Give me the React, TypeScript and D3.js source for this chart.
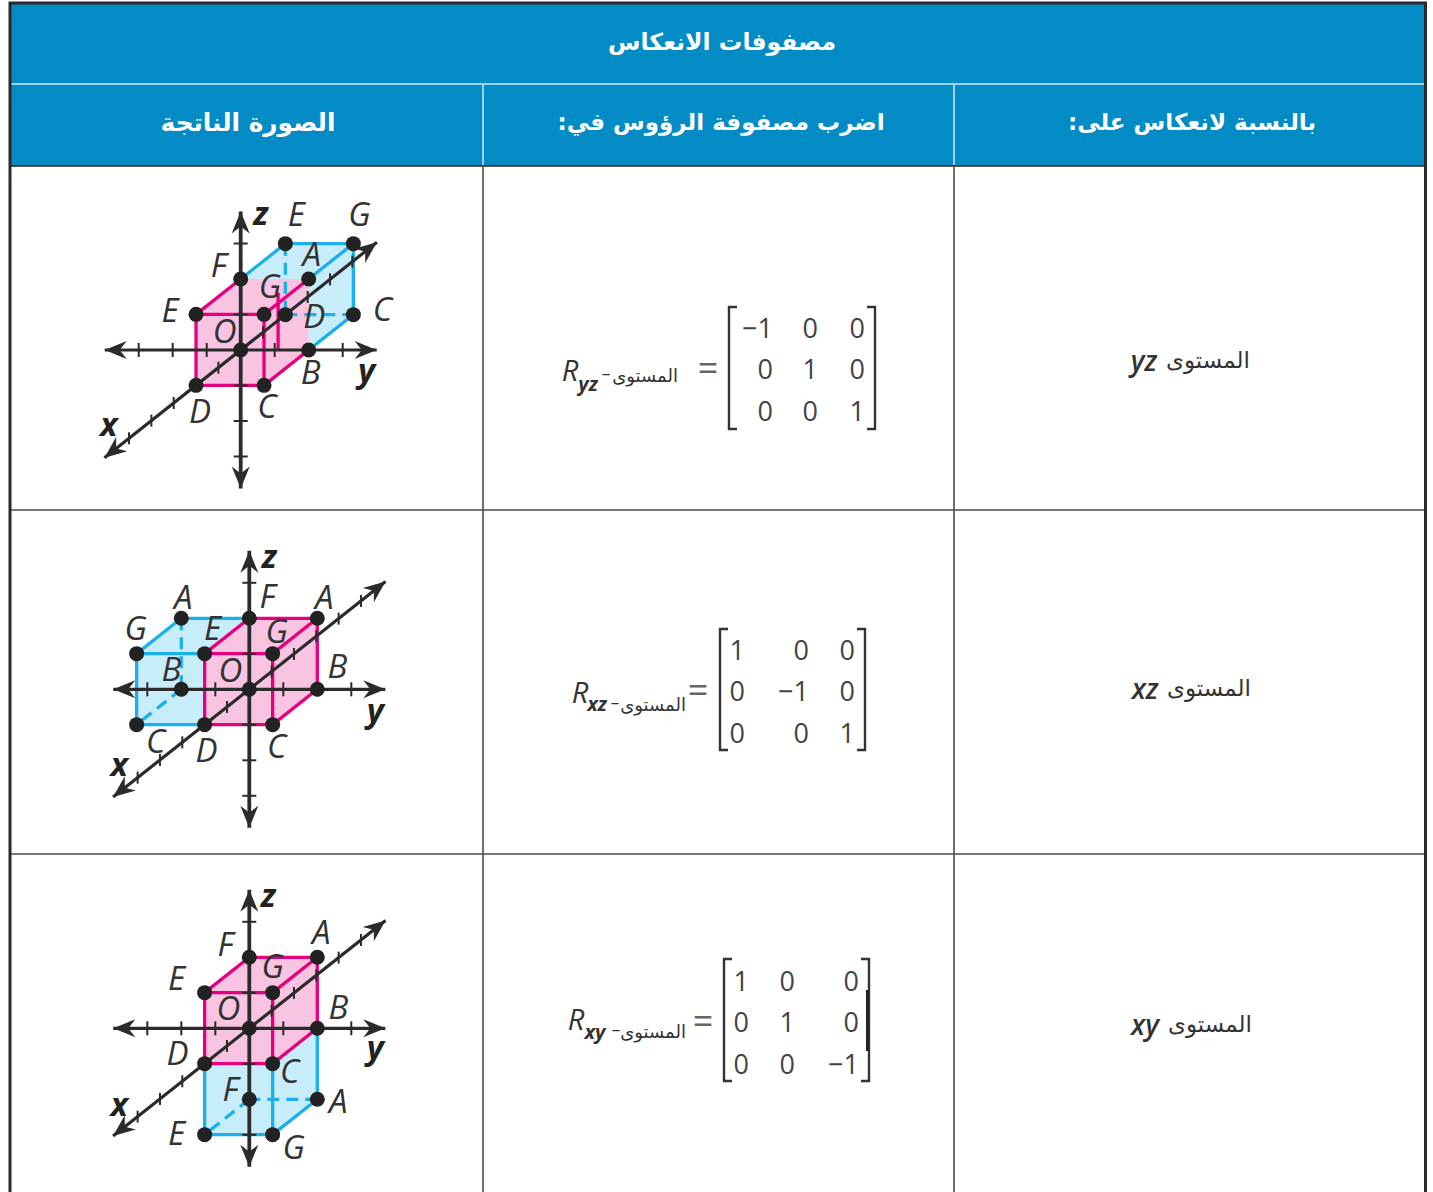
import React, { useEffect, useRef } from "react";
import * as d3 from "d3";

// table text
const title = "مصفوفات الانعكاس";
const columnHeads = ["الصورة الناتجة", "اضرب مصفوفة الرؤوس في:", "بالنسبة لانعكاس على:"];
const planeWord = "المستوى";
const planeNames = ["yz", "xz", "xy"];

// reflection matrices
const matrixYz = [["−1", "0", "0"], ["0", "1", "0"], ["0", "0", "1"]];
const matrixXz = [["1", "0", "0"], ["0", "−1", "0"], ["0", "0", "1"]];
const matrixXy = [["1", "0", "0"], ["0", "1", "0"], ["0", "0", "−1"]];

// axis ticks, in units
const yTicks = [-3, -2, -1, 1, 2, 3];
const zTicks = [-3, -2, -1, 1, 2, 3];
const xTicks = [-5, -4, -3, -2, -1, 1, 2, 3, 4, 5];

// cube vertices as [x, y, z]; the key prefix b marks the reflected (blue) image
type Vec = [number, number, number];
const pinkVerts: Record<string, Vec> = {
  O: [0, 0, 0], A: [0, 2, 2], B: [0, 2, 0], C: [2, 2, 0], D: [2, 0, 0], E: [2, 0, 2], F: [0, 0, 2], G: [2, 2, 2],
};
const blueYz: Record<string, Vec> = { bE: [-2, 0, 2], bG: [-2, 2, 2], bC: [-2, 2, 0], bD: [-2, 0, 0] };
const blueXz: Record<string, Vec> = { bA: [0, -2, 2], bB: [0, -2, 0], bC: [2, -2, 0], bG: [2, -2, 2] };
const blueXy: Record<string, Vec> = { bA: [0, 2, -2], bE: [2, 0, -2], bF: [0, 0, -2], bG: [2, 2, -2] };

// the loose pink stroke inside the first cube
const yzLoosePink: Vec[] = [[1.37, 2, 2.3], [1.37, 2, 0.68]];

const pinkFace = ["F", "A", "B", "C", "D", "E"];
const pinkEdges = ["F-A", "F-E", "A-G", "E-G", "E-D", "G-C", "D-C", "C-B", "A-B"];

const panels = [
  {
    blue: blueYz,
    origin: [240.7, 350],
    blueFace: ["F", "bE", "bG", "bC", "B", "A"],
    blueEdges: ["F-bE", "bE-bG", "bG-bC", "bC-B", "bG-A"],
    blueDashed: ["bE-bD", "bD-bC"],
    pinkEdges: ["F-E", "A-G", "E-G", "E-D", "G-C", "D-C", "C-B"],
    loose: yzLoosePink,
    labels: {
      E: [-26, -3], F: [-22, -13], G: [6, -27], D: [4, 27], C: [3, 22], B: [2, 23], A: [3, -24], O: [-16, -18],
      bE: [11, -28], bG: [6, -28], bC: [29, -4], bD: [29, 3],
    },
    axisLabels: { z: [20, -134], y: [126, 23], x: [-132, 77] },
  },
  {
    blue: blueXz,
    origin: [249.3, 689.3],
    blueFace: ["bA", "F", "O", "D", "bC", "bG"],
    blueEdges: ["bA-F", "bA-bG", "bG-E", "bG-bC", "bC-D"],
    blueDashed: ["bA-bB", "bB-bC"],
    pinkEdges,
    labels: {
      bA: [2, -20], bG: [-1, -24], E: [8, -24], bB: [-10, -19], bC: [19, 18], D: [2, 27], O: [-19, -18],
      F: [18, -21], A: [7, -20], G: [4, -21], B: [20, -22], C: [4, 23],
    },
    axisLabels: { z: [20, -130], y: [126, 24], x: [-130, 78] },
  },
  {
    blue: blueXy,
    origin: [249.3, 1028.3],
    blueFace: ["D", "C", "B", "bA", "bG", "bE"],
    blueEdges: ["D-bE", "bE-bG", "bG-C", "bG-bA", "bA-B"],
    blueDashed: ["bA-bF", "bF-bE"],
    pinkEdges,
    labels: {
      F: [-24, -12], A: [4, -24], E: [-28, -13], G: [0, -25], O: [-21, -19], B: [21, -20], D: [-27, -9], C: [17, 9],
      bF: [-19, -9], bA: [21, 3], bE: [-28, 0], bG: [21, 14],
    },
    axisLabels: { z: [19, -130], y: [126, 22], x: [-130, 79] },
  },
];

// matrix layout per row of the table
const matrixLayouts = [
  { values: matrixYz, colRight: [773, 818, 865], rowY: [327, 368, 410], left: 729, right: 875, top: 307, bottom: 429 },
  { values: matrixXz, colRight: [745, 809, 855], rowY: [649, 690, 732], left: 720, right: 865, top: 629, bottom: 750 },
  { values: matrixXy, colRight: [749, 795, 859], rowY: [980, 1021, 1063], left: 724, right: 869, top: 959, bottom: 1081 },
];

const equations = [
  { name: "R", sub: "yz", rx: 570, ry: 369, subX: 588, subY: 383, wordRight: 678, wordY: 375, dashX: 606, eqX: 708, eqY: 367 },
  { name: "R", sub: "xz", rx: 580, ry: 691, subX: 597, subY: 703, wordRight: 686, wordY: 704, dashX: 615, eqX: 698, eqY: 689 },
  { name: "R", sub: "xy", rx: 576, ry: 1018, subX: 595, subY: 1031, wordRight: 686, wordY: 1031, dashX: 616, eqX: 703, eqY: 1020 },
];

const planeRows = [
  { nameX: 1144, wordRight: 1250, y: 360 },
  { nameX: 1145, wordRight: 1251, y: 688 },
  { nameX: 1145, wordRight: 1252, y: 1024 },
];

const BLUE_HEAD = "#038bc5";
const PINK = "#e6007e";
const PINK_FILL = "#f8c4e1";
const BLUE = "#1bb0ea";
const BLUE_FILL = "#c7ecfa";
const INK = "#2b2b2b";
const LINE = "#4a4a4a";
const LATIN = '"Open Sans", sans-serif';
const ARABIC = '"DejaVu Sans", sans-serif';

// projection scales (units to pixels relative to the panel origin)
const yPx = d3.scaleLinear().domain([-4, 4]).range([-136, 136]);
const zPx = d3.scaleLinear().domain([-4, 4]).range([142, -142]);
const xDx = d3.scaleLinear().domain([-6, 6]).range([134, -134]);
const xDy = d3.scaleLinear().domain([-6, 6]).range([-106, 106]);

const App = () => {
  const svgRef = useRef<SVGSVGElement>(null);

  useEffect(() => {
    const svg = d3.select(svgRef.current);
    svg.selectAll("*").remove();

    // HEADER
    svg.append("rect").attr("x", 10).attr("y", 3).attr("width", 1415).attr("height", 163).attr("fill", BLUE_HEAD);
    svg.append("line").attr("x1", 11).attr("x2", 1424).attr("y1", 84).attr("y2", 84).attr("stroke", "#cfe9f5").attr("stroke-width", 1.5);

    const hline = (y: number) =>
      svg.append("line").attr("x1", 10).attr("x2", 1425).attr("y1", y).attr("y2", y).attr("stroke", LINE).attr("stroke-width", 1.6);
    hline(510);
    hline(854);
    svg.append("line").attr("x1", 10).attr("x2", 1425).attr("y1", 166).attr("y2", 166).attr("stroke", "#222").attr("stroke-width", 1.6);

    [483, 954].forEach((x) => {
      svg.append("line").attr("x1", x).attr("x2", x).attr("y1", 85).attr("y2", 165).attr("stroke", "#cfe9f5").attr("stroke-width", 1.5);
      svg.append("line").attr("x1", x).attr("x2", x).attr("y1", 167).attr("y2", 1192).attr("stroke", LINE).attr("stroke-width", 1.6);
    });

    // outer frame, open at the bottom
    svg.append("path").attr("d", "M10,1192V3H1425.5V1192").attr("fill", "none").attr("stroke", "#2a2a2a").attr("stroke-width", 3);

    const headText = (s: string, x: number, y: number, size: number) =>
      svg.append("text").attr("x", x).attr("y", y).attr("text-anchor", "middle").attr("dominant-baseline", "central")
        .attr("direction", "rtl").attr("fill", "white").attr("font-family", ARABIC).attr("font-weight", "bold")
        .attr("font-size", size).text(s);
    headText(title, 722, 42, 23.5);
    [248, 721, 1192].forEach((x, i) => headText(columnHeads[i], x, 122, i === 0 ? 24.8 : 23));

    // CUBES
    panels.forEach((p) => {
      const g = svg.append("g").attr("transform", `translate(${p.origin[0]},${p.origin[1]})`);
      const verts: Record<string, Vec> = { ...pinkVerts, ...p.blue };
      const proj = (v: Vec): [number, number] => [yPx(v[1]) + xDx(v[0]), zPx(v[2]) + xDy(v[0])];
      const at = (k: string) => proj(verts[k]);

      const face = (keys: string[], fill: string) =>
        g.append("polygon").attr("points", keys.map((k) => at(k).join(",")).join(" ")).attr("fill", fill);
      const segment = (a: [number, number], b: [number, number], color: string, dash?: string) =>
        g.append("line").attr("x1", a[0]).attr("y1", a[1]).attr("x2", b[0]).attr("y2", b[1])
          .attr("stroke", color).attr("stroke-width", 3.3).attr("stroke-dasharray", dash ?? null);
      const edges = (list: string[], color: string, dash?: string) =>
        list.forEach((e) => {
          const [a, b] = e.split("-").map(at);
          segment(a, b, color, dash);
        });

      face(p.blueFace, BLUE_FILL);
      face(pinkFace, PINK_FILL);
      edges(p.blueEdges, BLUE);
      edges(p.blueDashed, BLUE, "12 7");
      edges(p.pinkEdges, PINK);
      if (p.loose) segment(proj(p.loose[0]), proj(p.loose[1]), PINK);

      // AXES
      const axis = (from: Vec, to: Vec, w: number) => {
        const a = proj(from);
        const b = proj(to);
        g.append("line").attr("x1", a[0]).attr("y1", a[1]).attr("x2", b[0]).attr("y2", b[1]).attr("stroke", INK).attr("stroke-width", w);
        [[a, b], [b, a]].forEach(([s, e]) => {
          const ang = Math.atan2(e[1] - s[1], e[0] - s[0]);
          const pt = (back: number, side: number) => [
            e[0] - back * Math.cos(ang) - side * Math.sin(ang),
            e[1] - back * Math.sin(ang) + side * Math.cos(ang),
          ].join(",");
          g.append("polygon").attr("points", [pt(0, 0), pt(22, 9), pt(15, 0), pt(22, -9)].join(" ")).attr("fill", INK);
        });
      };
      axis([0, -4, 0], [0, 4, 0], 3.2);
      axis([0, 0, -3.9], [0, 0, 3.9], 3.8);
      axis([6.1, 0, 0], [-6.1, 0, 0], 3.2);

      const tick = (c: [number, number], dx: number, dy: number) =>
        g.append("line").attr("x1", c[0] - dx).attr("y1", c[1] - dy).attr("x2", c[0] + dx).attr("y2", c[1] + dy)
          .attr("stroke", INK).attr("stroke-width", 2);
      yTicks.forEach((t) => tick(proj([0, t, 0]), 0, 7));
      zTicks.forEach((t) => tick(proj([0, 0, t]), 7, 0));
      xTicks.forEach((t) => tick(proj([t, 0, 0]), 0, 6));

      // POINTS
      Object.keys(verts).forEach((k) => {
        const c = at(k);
        g.append("circle").attr("cx", c[0]).attr("cy", c[1]).attr("r", 7.5).attr("fill", "#222");
      });

      // LABELS
      Object.entries(p.labels).forEach(([k, off]) => {
        const c = at(k);
        g.append("text").attr("x", c[0] + off[0]).attr("y", c[1] + off[1] - 2).attr("text-anchor", "middle")
          .attr("dominant-baseline", "central").attr("font-family", LATIN).attr("font-style", "italic")
          .attr("font-size", 33).attr("fill", "#333").text(k.replace("b", ""));
      });
      Object.entries(p.axisLabels).forEach(([k, off]) => {
        g.append("text").attr("x", off[0]).attr("y", off[1] - 4).attr("text-anchor", "middle")
          .attr("dominant-baseline", "central").attr("font-family", LATIN).attr("font-style", "italic").attr("font-weight", "bold")
          .attr("font-size", 33).attr("fill", "#222").text(k);
      });
    });

    // MATRICES
    matrixLayouts.forEach((m) => {
      m.values.forEach((row, r) =>
        row.forEach((v, c) => {
          svg.append("text").attr("x", m.colRight[c]).attr("y", m.rowY[r]).attr("text-anchor", "end")
            .attr("dominant-baseline", "central").attr("font-family", LATIN).attr("font-size", 27).attr("fill", "#444").text(v);
        }),
      );
      svg.append("path")
        .attr("d", `M${m.left + 8},${m.top}H${m.left}V${m.bottom}H${m.left + 8}M${m.right - 8},${m.top}H${m.right}V${m.bottom}H${m.right - 8}`)
        .attr("fill", "none").attr("stroke", "#333").attr("stroke-width", 2.4);
    });
    // the heavier stretch on the last matrix's right bracket
    const lastMatrix = matrixLayouts[2];
    svg.append("line").attr("x1", lastMatrix.right - 1.5).attr("x2", lastMatrix.right - 1.5)
      .attr("y1", lastMatrix.rowY[0] + 10).attr("y2", lastMatrix.rowY[2] - 12).attr("stroke", "#222").attr("stroke-width", 3);

    // EQUATIONS
    equations.forEach((e) => {
      const latin = (s: string, x: number, y: number, size: number, weight = "normal") =>
        svg.append("text").attr("x", x).attr("y", y).attr("text-anchor", "middle").attr("dominant-baseline", "central")
          .attr("font-family", LATIN).attr("font-style", "italic").attr("font-weight", weight).attr("font-size", size).attr("fill", "#333").text(s);
      latin(e.name, e.rx, e.ry, 29);
      latin(e.sub, e.subX, e.subY, 20, "bold");
      latin("–", e.dashX, e.wordY - 2, 18);
      svg.append("text").attr("x", e.wordRight).attr("y", e.wordY).attr("text-anchor", "end").attr("dominant-baseline", "central")
        .attr("font-family", ARABIC).attr("font-size", 18).attr("fill", "#333").text(planeWord);
      svg.append("text").attr("x", e.eqX).attr("y", e.eqY).attr("text-anchor", "middle").attr("dominant-baseline", "central")
        .attr("font-family", LATIN).attr("font-size", 36).attr("fill", "#666").text("=");
    });

    // FIRST COLUMN
    planeRows.forEach((r, i) => {
      svg.append("text").attr("x", r.nameX).attr("y", r.y).attr("text-anchor", "middle").attr("dominant-baseline", "central")
        .attr("font-family", LATIN).attr("font-style", "italic").attr("font-weight", 600).attr("font-size", 28).attr("fill", "#333").text(planeNames[i]);
      svg.append("text").attr("x", r.wordRight).attr("y", r.y).attr("text-anchor", "end").attr("dominant-baseline", "central")
        .attr("font-family", ARABIC).attr("font-size", 23).attr("fill", "#333").text(planeWord);
    });
  }, []);

  return <svg ref={svgRef} width={1433} height={1192} style={{ position: "absolute", left: 0, top: 0, background: "white" }} />;
};

export default App;
